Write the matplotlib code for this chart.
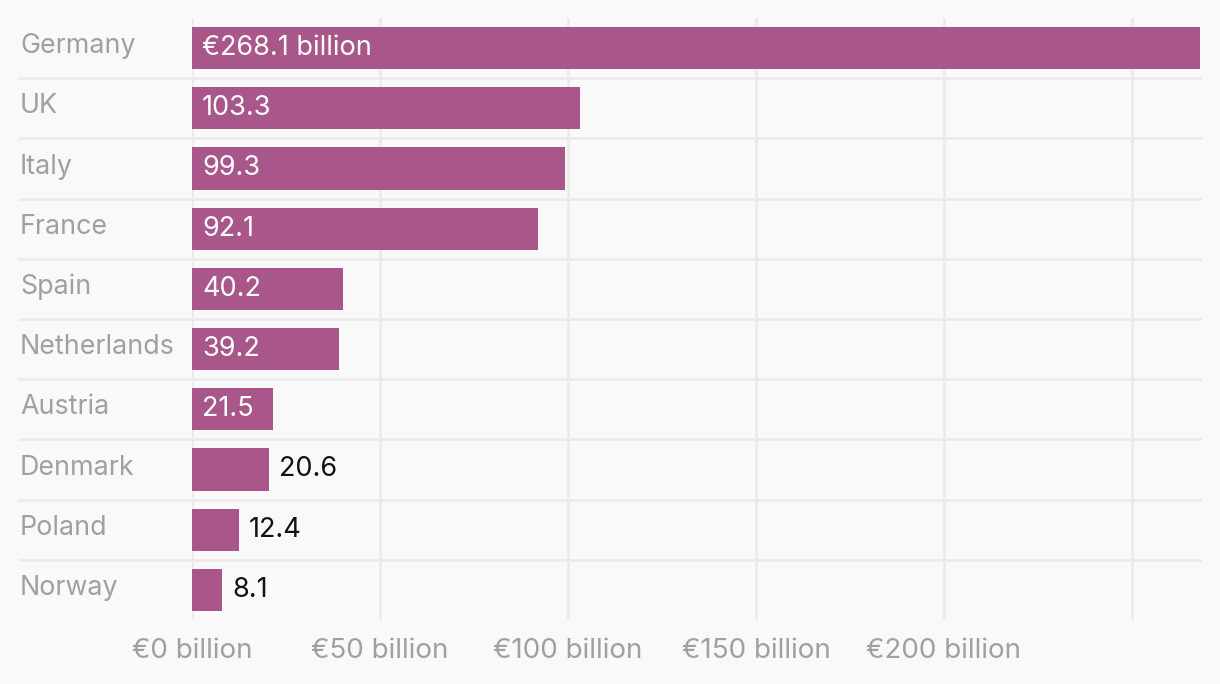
import matplotlib.pyplot as plt
from matplotlib.transforms import blended_transform_factory

countries = ["Germany", "UK", "Italy", "France", "Spain", "Netherlands",
             "Austria", "Denmark", "Poland", "Norway"]
values = [268.1, 103.3, 99.3, 92.1, 40.2, 39.2, 21.5, 20.6, 12.4, 8.1]
value_labels = ["€268.1 billion", "103.3", "99.3", "92.1", "40.2", "39.2",
                "21.5", "20.6", "12.4", "8.1"]
xticks = [0, 50, 100, 150, 200, 250]
xtick_labels = ["€0 billion", "€50 billion", "€100 billion", "€150 billion",
                "€200 billion", ""]

plt.rcParams['font.family'] = ['Inter', 'DejaVu Sans']

bg = "#f9f9f9"
bar_color = "#a9578a"
grid_color = "#ebebeb"
label_color = "#a0a0a0"

fig = plt.figure(figsize=(12.2, 6.84), dpi=100, facecolor=bg)
ax = fig.add_axes([192 / 1220, 1 - 620 / 684, 1008 / 1220, 602 / 684])
ax.set_facecolor(bg)

y = list(range(len(countries)))
ax.barh(y, values, height=0.7, color=bar_color, zorder=3)
ax.set_ylim(len(countries) - 0.5, -0.5)
ax.set_xlim(0, 268.1)

# vertical grid
ax.set_xticks(xticks)
ax.set_xticklabels(xtick_labels, color=label_color, fontsize=20)
ax.tick_params(axis='x', length=0, pad=13)
ax.set_yticks([])
for x in xticks:
    ax.axvline(x, color=grid_color, lw=2, zorder=1)

# row separators
for i in range(len(countries) - 1):
    ax.axhline(i + 0.5, xmin=-172 / 1008, xmax=1, color=grid_color, lw=2,
               clip_on=False, zorder=1)

for s in ax.spines.values():
    s.set_visible(False)

trans = blended_transform_factory(fig.transFigure, ax.transData)
for i, name in enumerate(countries):
    ax.text(20 / 1220, i - 0.03, name, transform=trans, ha='left', va='center',
            color=label_color, fontsize=19.3)

px_per_unit = 1008 / 268.1
for i, (v, lab) in enumerate(zip(values, value_labels)):
    if v >= 21:
        ax.text(10 / px_per_unit, i, lab, ha='left', va='center',
                color='white', fontsize=19.5, zorder=4)
    else:
        ax.text(v + 10 / px_per_unit, i, lab, ha='left', va='center',
                color='#111111', fontsize=19.5, zorder=4)

fig.savefig("out.png", dpi=100, facecolor=bg)
